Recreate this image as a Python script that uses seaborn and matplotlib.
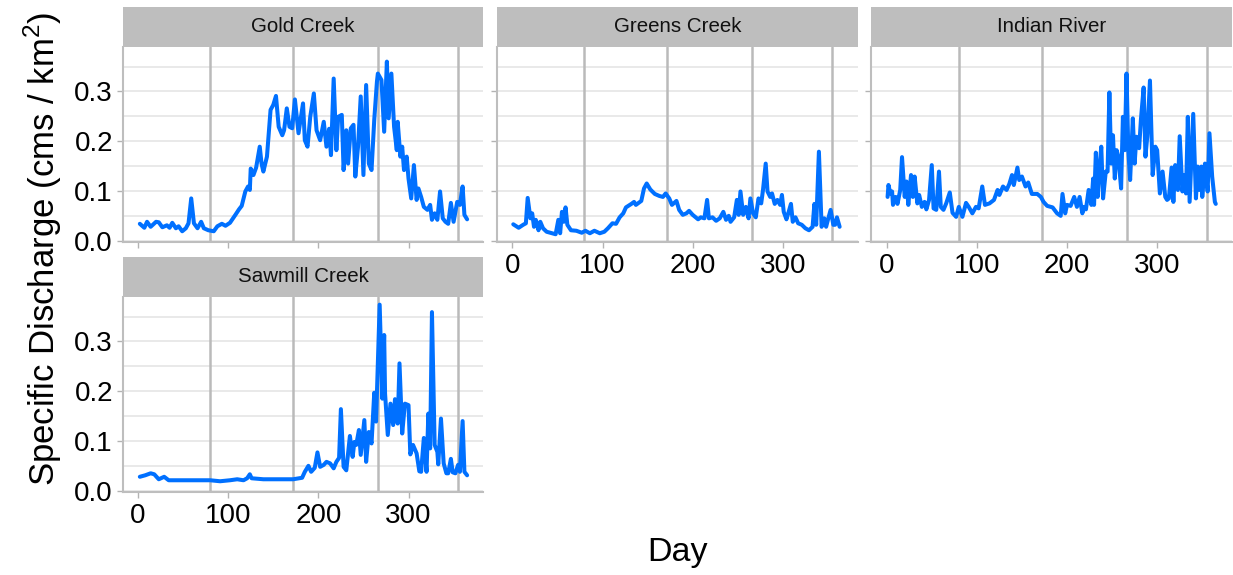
import numpy as np
import pandas as pd
import matplotlib
matplotlib.use("Agg")
import matplotlib.pyplot as plt
import seaborn as sns
from matplotlib.patches import Rectangle
from matplotlib.ticker import MultipleLocator

# ---------------- data ----------------
sites = ["Gold Creek", "Greens Creek", "Indian River", "Sawmill Creek"]

gold_day = [2, 7, 10, 14, 20, 23, 27, 32, 35, 38, 42, 45, 49, 53, 56, 59, 62, 66, 70, 73, 78, 84, 88, 93, 97,
            102, 108, 112, 115, 119, 122, 124, 125, 128, 131, 135, 137, 139, 143, 147, 150, 153, 156, 160, 162,
            165, 168, 171, 174, 178, 183, 185, 188, 191, 195, 198, 202, 206, 209, 212, 214, 217, 220, 222, 226,
            228, 231, 233, 236, 239, 241, 244, 247, 250, 253, 256, 259, 262, 265, 266, 270, 273, 276, 278, 281,
            284, 287, 288, 291, 293, 295, 298, 300, 303, 306, 309, 311, 314, 317, 321, 324, 326, 329, 332, 335,
            338, 341, 344, 347, 350, 354, 357, 360, 362, 365]
gold_q = [.034, .026, .038, .028, .038, .037, .027, .031, .026, .036, .025, .029, .019, .025, .035, .085, .035,
          .025, .038, .025, .021, .019, .029, .034, .030, .036, .052, .063, .070, .099, .109, .102, .145, .132,
          .147, .189, .155, .139, .169, .263, .273, .291, .229, .212, .222, .266, .229, .226, .284, .216, .276,
          .202, .189, .249, .296, .222, .202, .239, .189, .225, .172, .326, .182, .249, .253, .142, .222, .155,
          .226, .233, .129, .189, .290, .132, .313, .155, .142, .243, .320, .336, .323, .219, .360, .246, .336,
          .229, .182, .239, .169, .189, .142, .169, .125, .085, .152, .082, .105, .088, .068, .062, .072, .042,
          .055, .042, .099, .045, .038, .034, .076, .038, .078, .072, .109, .052, .043]

greens_day = [1, 7, 12, 15, 17, 20, 22, 24, 26, 29, 31, 34, 38, 44, 48, 51, 53, 55, 57, 59, 61, 65, 71, 77, 81,
              86, 91, 97, 102, 106, 111, 115, 119, 123, 126, 132, 135, 137, 140, 143, 146, 149, 153, 158, 163,
              167, 170, 174, 177, 182, 185, 189, 193, 196, 200, 206, 209, 213, 216, 218, 222, 226, 230, 234, 237,
              240, 242, 246, 249, 251, 253, 256, 259, 262, 264, 267, 270, 273, 276, 278, 281, 283, 286, 288, 291,
              294, 297, 299, 301, 304, 306, 309, 311, 314, 317, 321, 325, 329, 333, 335, 337, 340, 343, 346, 348,
              350, 353, 356, 358, 360, 363]
greens_q = [.033, .026, .032, .035, .086, .045, .055, .028, .042, .021, .038, .025, .018, .015, .013, .042, .015,
            .058, .038, .067, .032, .021, .020, .016, .020, .015, .020, .015, .018, .025, .035, .034, .047, .055,
            .067, .074, .078, .072, .076, .080, .105, .115, .103, .094, .090, .088, .095, .085, .072, .080, .062,
            .052, .055, .060, .052, .043, .047, .045, .082, .045, .047, .040, .045, .058, .042, .050, .038, .047,
            .082, .052, .099, .052, .068, .045, .085, .055, .047, .085, .075, .102, .155, .099, .088, .095, .074,
            .082, .072, .092, .058, .043, .055, .074, .038, .047, .035, .032, .025, .021, .028, .074, .032, .179,
            .028, .045, .028, .042, .062, .032, .032, .047, .028]

indian_day = [1, 2, 4, 6, 7, 10, 12, 15, 17, 20, 22, 24, 27, 29, 31, 34, 36, 39, 42, 44, 47, 50, 52, 55, 58, 60,
              63, 66, 70, 73, 77, 80, 84, 88, 91, 95, 99, 102, 106, 109, 114, 119, 123, 125, 129, 133, 136, 139,
              141, 145, 147, 150, 154, 157, 161, 167, 171, 174, 178, 184, 189, 193, 195, 198, 200, 204, 208, 211,
              214, 217, 219, 221, 224, 227, 229, 230, 232, 234, 236, 238, 240, 243, 245, 247, 249, 251, 253, 255,
              257, 260, 262, 264, 266, 268, 270, 273, 275, 277, 280, 282, 285, 287, 289, 292, 295, 298, 300, 303,
              306, 309, 311, 313, 316, 318, 320, 323, 325, 328, 330, 332, 334, 336, 340, 343, 345, 347, 349, 350,
              353, 356, 358, 361, 364, 365]
indian_q = [.088, .112, .095, .099, .072, .088, .074, .102, .168, .088, .119, .072, .132, .088, .129, .075, .092,
            .068, .078, .063, .082, .152, .065, .062, .139, .068, .062, .075, .097, .056, .048, .068, .048, .076,
            .068, .055, .068, .065, .109, .072, .075, .082, .102, .092, .109, .102, .114, .132, .112, .147, .122,
            .129, .109, .117, .094, .094, .088, .078, .070, .067, .055, .050, .094, .055, .072, .070, .088, .068,
            .088, .055, .068, .063, .102, .072, .125, .072, .177, .088, .145, .189, .085, .139, .139, .298, .155,
            .212, .125, .182, .169, .105, .249, .182, .336, .182, .122, .246, .155, .209, .186, .244, .308, .169,
            .209, .322, .132, .189, .182, .095, .139, .088, .082, .085, .147, .078, .152, .102, .210, .099, .132,
            .095, .249, .078, .255, .085, .149, .102, .149, .088, .155, .099, .216, .129, .078, .074]

sawmill_day = [2, 8, 14, 18, 23, 29, 34, 44, 66, 80, 91, 102, 110, 117, 121, 124, 126, 139, 158, 172, 182, 185,
               189, 192, 196, 199, 202, 206, 209, 213, 217, 220, 223, 225, 228, 231, 235, 238, 240, 242, 245, 247,
               251, 253, 256, 259, 262, 264, 268, 271, 273, 274, 277, 280, 283, 285, 288, 290, 293, 296, 300, 302,
               305, 309, 312, 314, 317, 320, 322, 324, 326, 329, 332, 333, 336, 339, 342, 344, 347, 349, 352, 355,
               357, 360, 362, 365]
sawmill_q = [.028, .031, .035, .033, .023, .028, .021, .021, .021, .021, .019, .021, .023, .021, .025, .033, .025,
             .023, .023, .023, .026, .038, .050, .038, .046, .077, .048, .052, .058, .055, .045, .058, .066, .164,
             .048, .041, .110, .068, .098, .092, .122, .072, .142, .058, .118, .095, .197, .139, .374, .185, .313,
             .195, .112, .175, .132, .184, .135, .256, .115, .175, .172, .073, .092, .075, .039, .038, .106, .038,
             .155, .085, .359, .092, .078, .053, .145, .055, .035, .035, .064, .037, .035, .052, .038, .140, .038,
             .031]

season_days = [80, 172, 266, 355]
x_ticks = [0, 100, 200, 300]
y_ticks = [0.0, 0.1, 0.2, 0.3]

df = pd.concat([
    pd.DataFrame({"site": "Gold Creek", "day": gold_day, "q": gold_q}),
    pd.DataFrame({"site": "Greens Creek", "day": greens_day, "q": greens_q}),
    pd.DataFrame({"site": "Indian River", "day": indian_day, "q": indian_q}),
    pd.DataFrame({"site": "Sawmill Creek", "day": sawmill_day, "q": sawmill_q}),
], ignore_index=True)

# ---------------- plot ----------------
sns.set_theme(style="white")
plt.rcParams["font.family"] = ["Liberation Sans", "DejaVu Sans"]
plt.rcParams["mathtext.fontset"] = "custom"
plt.rcParams["mathtext.rm"] = "Liberation Sans"
plt.rcParams["text.color"] = "black"

LINE = "#0070FF"
g = sns.relplot(data=df, x="day", y="q", col="site", col_order=sites, col_wrap=3,
                kind="line", color=LINE, linewidth=2.9, estimator=None,
                height=2.5, aspect=1.8, facet_kws=dict(sharex=True, sharey=True))
fig = g.figure
fig.set_size_inches(12.33, 5.75)
fig.set_dpi(100)
W, H = 1233, 575
fig.subplots_adjust(left=122.7 / W, right=1232 / W, top=1 - 46.7 / H, bottom=1 - 491.7 / H,
                    wspace=13.7 / 361, hspace=55 / 195)
g.set_titles("")
g.set_axis_labels("", "")

strip_h = 40 / 195
for name, ax in zip(sites, g.axes.flat):
    ax.set_xlim(-17, 383)
    ax.set_ylim(-0.002, 0.39)
    ax.set_xticks(x_ticks)
    ax.set_yticks(y_ticks)
    ax.yaxis.set_minor_locator(MultipleLocator(0.05))
    ax.grid(False)
    ax.yaxis.grid(True, which="both", color="#E3E3E3", linewidth=1.1, zorder=0)
    ax.set_axisbelow(True)
    for d in season_days:
        ax.axvline(d, color="#BABABA", linewidth=1.8, zorder=1)
    ax.lines[0].set_zorder(3)
    ax.lines[0].set_solid_joinstyle("round")
    ax.tick_params(axis="both", which="major", length=4, width=1, color="#B3B3B3",
                   labelsize=20, labelcolor="black", bottom=True, left=True)
    ax.tick_params(axis="x", pad=4)
    ax.tick_params(axis="y", pad=3)
    ax.tick_params(which="minor", length=0)
    for s in ["top", "right"]:
        ax.spines[s].set_visible(False)
    for s in ["left", "bottom"]:
        ax.spines[s].set_color("#BEBEBE")
        ax.spines[s].set_linewidth(1.5)
    ax.add_patch(Rectangle((0, 1), 1, strip_h, transform=ax.transAxes, clip_on=False,
                           facecolor="#BEBEBE", edgecolor="none", zorder=5))
    ax.text(0.5, 1 + strip_h / 2, name, transform=ax.transAxes, ha="center", va="center",
            fontsize=14.8, color="#111111", zorder=6)

fig.text(677 / W, 1 - 552 / H, "Day", ha="center", va="center", fontsize=24.5, color="black")
fig.text(43 / W, 1 - 249 / H, r"Specific Discharge (cms / km$^2$)", ha="center", va="center",
         rotation=90, fontsize=25, color="black")

fig.savefig("out.png", dpi=100)
